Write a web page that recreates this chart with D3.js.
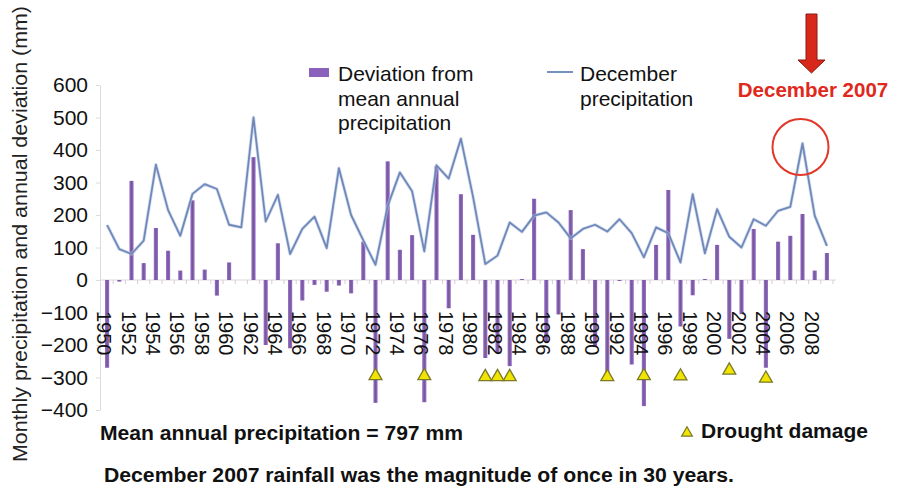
<!DOCTYPE html>
<html><head><meta charset="utf-8">
<script src="https://cdn.jsdelivr.net/npm/d3@7"></script>
<style>body{margin:0;background:#fff}svg{display:block}text{font-family:"Liberation Sans",Arial,Helvetica,sans-serif}</style>
</head><body>
<script>
const years = [1950,1951,1952,1953,1954,1955,1956,1957,1958,1959,1960,1961,1962,1963,1964,1965,1966,1967,1968,1969,
  1970,1971,1972,1973,1974,1975,1976,1977,1978,1979,1980,1981,1982,1983,1984,1985,1986,1987,1988,1989,
  1990,1991,1992,1993,1994,1995,1996,1997,1998,1999,2000,2001,2002,2003,2004,2005,2006,2007,2008,2009];
const deviation = [-270,-5,305,52,160,90,29,245,32,-48,54,0,378,-200,113,-210,-63,-15,-36,-17,
  -41,118,-378,365,93,138,-376,350,-87,264,139,-240,-225,-265,3,250,-190,-106,215,95,
  -205,-285,-3,-260,-388,108,277,-143,-47,3,108,-181,-105,157,-270,118,136,203,29,83];
const december = [169,95,80,121,355,215,136,265,295,280,170,162,500,180,262,80,157,195,98,344,
  200,122,47,228,331,273,88,353,312,435,255,49,75,177,148,198,208,177,128,157,
  170,149,187,144,70,162,144,54,264,82,218,133,100,187,167,213,225,420,198,105];
const droughtYears = [1972,1976,1981,1982,1983,1991,1994,1997,2001,2004];
const droughtLevel = [-295,-295,-298,-298,-298,-298,-295,-296,-278,-303];
const yTicks = [-400,-300,-200,-100,0,100,200,300,400,500,600];
const xLabelYears = years.filter(d => d % 2 === 0);

const W = 898, H = 493;
const svg = d3.select("body").append("svg").attr("width", W).attr("height", H);

const x = d3.scaleBand().domain(years).range([101, 833]).paddingInner(0.66).paddingOuter(0.33);
const y = d3.scaleLinear().domain([-400, 600]).range([410, 85]);
const cx = d => x(d) + x.bandwidth() / 2;
const step = x.step();

// y axis
const yAxis = svg.append("g").attr("transform", "translate(100,0)")
  .call(d3.axisLeft(y).tickValues(yTicks).tickSize(4).tickSizeOuter(0).tickPadding(8));
yAxis.select(".domain").attr("stroke", "#dcdcdc");
yAxis.selectAll(".tick line").attr("stroke", "#dcdcdc");
yAxis.selectAll(".tick text").attr("font-size", 21).attr("fill", "#111")
  .style("font-family", '"Liberation Sans",Arial,sans-serif');

// zero axis line with ticks at category boundaries
svg.append("line").attr("x1", 100).attr("x2", 836).attr("y1", y(0)).attr("y2", y(0))
  .attr("stroke", "#ddd6dd").attr("stroke-width", 1);
svg.append("g").selectAll("line").data(years).join("line")
  .attr("x1", d => cx(d) + step / 2).attr("x2", d => cx(d) + step / 2)
  .attr("y1", y(0)).attr("y2", y(0) + 4)
  .attr("stroke", "#d8ccd8");

// bar gradient
const defs = svg.append("defs");
const g1 = defs.append("linearGradient").attr("id", "barg").attr("x1", "0").attr("x2", "1").attr("y1", "0").attr("y2", "0");
g1.append("stop").attr("offset", "0%").attr("stop-color", "#9a6fd8");
g1.append("stop").attr("offset", "50%").attr("stop-color", "#74588f");
g1.append("stop").attr("offset", "100%").attr("stop-color", "#9a6fd8");

// bars
svg.append("g").selectAll("rect").data(years).join("rect")
  .attr("x", d => x(d))
  .attr("width", x.bandwidth())
  .attr("y", (d, i) => y(Math.max(0, deviation[i])))
  .attr("height", (d, i) => Math.abs(y(deviation[i]) - y(0)))
  .attr("fill", "url(#barg)");

// line
const line = d3.line().x((d, i) => cx(years[i])).y(d => y(d));
svg.append("path").datum(december).attr("d", line)
  .attr("fill", "none").attr("stroke", "#b8c8e6").attr("stroke-width", 3.4).attr("stroke-linejoin", "round").attr("opacity", 0.6);
svg.append("path").datum(december).attr("d", line)
  .attr("fill", "none").attr("stroke", "#6f88b8").attr("stroke-width", 1.8).attr("stroke-linejoin", "round");

// x labels
svg.append("g").selectAll("text").data(xLabelYears).join("text")
  .attr("transform", d => `translate(${cx(d) - 3},311) rotate(90)`)
  .attr("dy", "0.35em").attr("font-size", 20).attr("fill", "#111")
  .text(d => d);

// drought triangles
const tri = d3.symbol().type(d3.symbolTriangle).size(72);
svg.append("g").selectAll("path").data(droughtYears).join("path")
  .attr("transform", (d, i) => `translate(${cx(d)},${y(droughtLevel[i])})`)
  .attr("d", tri).attr("fill", "#f0e400").attr("stroke", "#7a7a2a").attr("stroke-width", 1.3);

// y title
svg.append("text").attr("transform", "translate(27,234) rotate(-90)")
  .attr("text-anchor", "middle").attr("font-size", 20.5).attr("fill", "#222")
  .attr("textLength", 456).attr("lengthAdjust", "spacingAndGlyphs")
  .text("Monthly precipitation and annual deviation (mm)");

// legend
svg.append("rect").attr("x", 309).attr("y", 68).attr("width", 20).attr("height", 9).attr("fill", "#8a62bc");
const lg1 = svg.append("text").attr("x", 338).attr("y", 81).attr("font-size", 21).attr("fill", "#111");
["Deviation from", "mean annual", "precipitation"].forEach((t, i) =>
  lg1.append("tspan").attr("x", 338).attr("dy", i ? 24.5 : 0).text(t));
svg.append("line").attr("x1", 547).attr("x2", 573).attr("y1", 72).attr("y2", 72)
  .attr("stroke", "#7890c0").attr("stroke-width", 2);
const lg2 = svg.append("text").attr("x", 580).attr("y", 81).attr("font-size", 21).attr("fill", "#111");
["December", "precipitation"].forEach((t, i) =>
  lg2.append("tspan").attr("x", 580).attr("dy", i ? 24.5 : 0).text(t));

// December 2007 annotation
svg.append("text").attr("x", 813).attr("y", 97).attr("text-anchor", "middle")
  .attr("font-size", 20.5).attr("font-weight", "bold").attr("fill", "#e0281c").text("December 2007");
svg.append("path")
  .attr("d", "M806,14 L817,14 L817,60 L825,60 L811.5,73 L798,60 L806,60 Z")
  .attr("fill", "#d8281c").attr("stroke", "#8a1a12").attr("stroke-width", 1);
svg.append("circle").attr("cx", cx(2007) - 2).attr("cy", 147).attr("r", 28)
  .attr("fill", "none").attr("stroke", "#e2382a").attr("stroke-width", 2);

// bottom texts
svg.append("text").attr("x", 100).attr("y", 440).attr("font-size", 20).attr("font-weight", "bold")
  .attr("fill", "#111").attr("textLength", 363).attr("lengthAdjust", "spacingAndGlyphs")
  .text("Mean annual precipitation = 797 mm");
svg.append("path").attr("transform", "translate(687,433)")
  .attr("d", d3.symbol().type(d3.symbolTriangle).size(50)).attr("fill", "#f0e400").attr("stroke", "#7a7a2a").attr("stroke-width", 1.2);
svg.append("text").attr("x", 701).attr("y", 438).attr("font-size", 20).attr("font-weight", "bold")
  .attr("fill", "#111").attr("textLength", 167).attr("lengthAdjust", "spacingAndGlyphs").text("Drought damage");
svg.append("text").attr("x", 104).attr("y", 482).attr("font-size", 19.5).attr("font-weight", "bold")
  .attr("fill", "#111").attr("textLength", 630).attr("lengthAdjust", "spacingAndGlyphs")
  .text("December 2007 rainfall was the magnitude of once in 30 years.");
</script>
</body></html>
